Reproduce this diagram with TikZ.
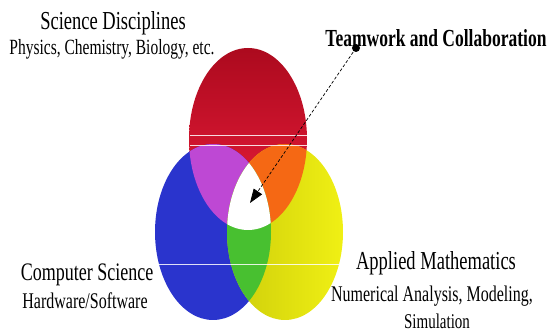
\documentclass[tikz,border=0pt]{standalone}
\usepackage{fontspec}
\setmainfont{Liberation Serif}
\usetikzlibrary{arrows.meta}
\definecolor{cRed}{RGB}{205,16,42}
\definecolor{cRedTop}{RGB}{172,10,30}
\definecolor{cRedBot}{RGB}{238,30,60}
\definecolor{cBlue}{RGB}{42,52,205}
\definecolor{cYellowL}{RGB}{205,205,10}
\definecolor{cYellowR}{RGB}{240,240,20}
\definecolor{cGreen}{RGB}{72,192,48}
\definecolor{cPurple}{RGB}{190,72,212}
\definecolor{cOrange}{RGB}{245,104,20}
\newcommand{\tallt}[1]{\scalebox{1}[1.4]{#1}}
\tikzset{
  lbl/.style={font=\fontsize{#1}{#1}\selectfont, inner sep=0pt, text=black},
  conn/.style={densely dashed, line width=0.7pt, -{Triangle[length=14pt,width=10pt]}},
  artline/.style={white, line width=0.8pt, opacity=0.85}
}
\begin{document}
\begin{tikzpicture}[x=1pt,y=-1pt]
\useasboundingbox (0,0) rectangle (555,336);
\def\redE{(248,139) ellipse [x radius=59pt, y radius=91pt]}
\def\blueE{(213,232) ellipse [x radius=58pt, y radius=88pt]}
\def\yelE{(285,232) ellipse [x radius=58pt, y radius=88pt]}
% base discs
\shade[top color=cRedTop, bottom color=cRedBot] \redE;
\fill[cBlue] \blueE;
\shade[left color=cYellowL, right color=cYellowR] \yelE;
% overlaps
\begin{scope}\clip \redE; \fill[cPurple] \blueE; \end{scope}
\begin{scope}\clip \redE; \fill[cOrange] \yelE; \end{scope}
\begin{scope}\clip \blueE; \fill[cGreen] \yelE; \end{scope}
\begin{scope}\clip \redE; \clip \blueE; \fill[white] \yelE; \end{scope}
% scan-line artefacts
\draw[artline] (190,135) -- (307,135);
\draw[artline] (190,145) -- (307,145);
\draw[artline] (156,264) -- (342,264);
% labels
\node[lbl=18.5] (sci) at (113,23) {\tallt{Science Disciplines}};
\node[lbl=15.5] (sci2) at (112,49) {\tallt{Physics, Chemistry, Biology, etc.}};
\node[lbl=17.5, font=\fontsize{17.5}{17.5}\selectfont\bfseries] (team) at (436,38) {\tallt{Teamwork and Collaboration}};
\node[lbl=18] (cs) at (87,275) {\tallt{Computer Science}};
\node[lbl=16] (cs2) at (85,301) {\tallt{Hardware/Software}};
\node[lbl=18.5] (am) at (436,263) {\tallt{Applied Mathematics}};
\node[lbl=16] (am2) at (432,296) {\tallt{Numerical Analysis, Modeling,}};
\node[lbl=15] (am3) at (437,321) {\tallt{Simulation}};
% arrow
\coordinate (tail) at (356,48);
\coordinate (head) at (250,203);
\fill[black] (tail) circle [radius=4pt];
\draw[conn] (tail) -- (head);
\end{tikzpicture}
\end{document}
